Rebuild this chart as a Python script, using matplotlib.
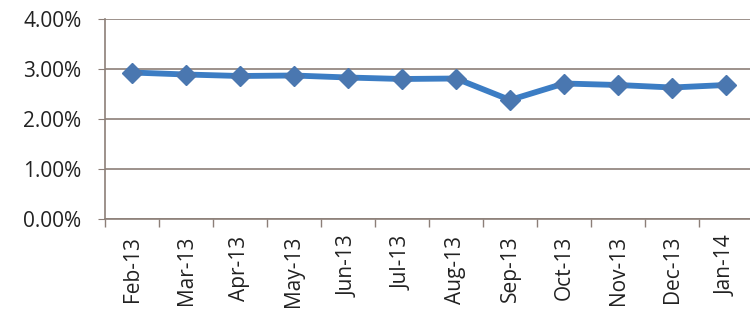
import matplotlib
matplotlib.use("Agg")
import matplotlib.pyplot as plt
from matplotlib.ticker import FuncFormatter, FixedLocator

months = ["Feb-13", "Mar-13", "Apr-13", "May-13", "Jun-13", "Jul-13",
          "Aug-13", "Sep-13", "Oct-13", "Nov-13", "Dec-13", "Jan-14"]
rates = [2.93, 2.89, 2.86, 2.87, 2.83, 2.80, 2.81, 2.38, 2.71, 2.68, 2.63, 2.68]
yticks = [0, 1, 2, 3, 4]

plt.rcParams['font.family'] = ['Open Sans', 'DejaVu Sans']

fig = plt.figure(figsize=(7.5, 3.22), dpi=100)
ax = fig.add_axes([105/750, 1-219/322, (753-105)/750, 200/322])

x = list(range(len(months)))
ax.plot(x, rates, color="#3C7DC4", lw=4.2, marker="D", markersize=10.5,
        markerfacecolor="#4A77B0", markeredgecolor="#4A77B0", zorder=3)

ax.set_xlim(-0.5, len(months) - 0.5)
ax.set_ylim(0, 4)
ax.set_yticks(yticks)
ax.yaxis.set_major_formatter(FuncFormatter(lambda v, p: f"{v:.2f}%"))
ax.set_xticks(x)
ax.set_xticklabels(months, rotation=90)
ax.xaxis.set_minor_locator(FixedLocator([i - 0.5 for i in range(len(months) + 1)]))
ax.tick_params(axis="x", which="major", length=0, pad=12, labelsize=15, labelcolor="#222222")
ax.tick_params(axis="x", which="minor", length=6, color="#8C7F78", width=1)
ax.tick_params(axis="y", length=5, color="#8C7F78", labelsize=15, labelcolor="#222222", pad=12)

ax.grid(axis="y", color="#8C7F78", lw=1.2)
ax.set_axisbelow(True)
for s in ["top", "right"]:
    ax.spines[s].set_visible(False)
ax.spines["left"].set_color("#8C7F78")
ax.spines["bottom"].set_color("#8C7F78")
ax.spines["left"].set_linewidth(1.2)
ax.spines["bottom"].set_linewidth(1.2)

fig.savefig("out.png", dpi=100)
